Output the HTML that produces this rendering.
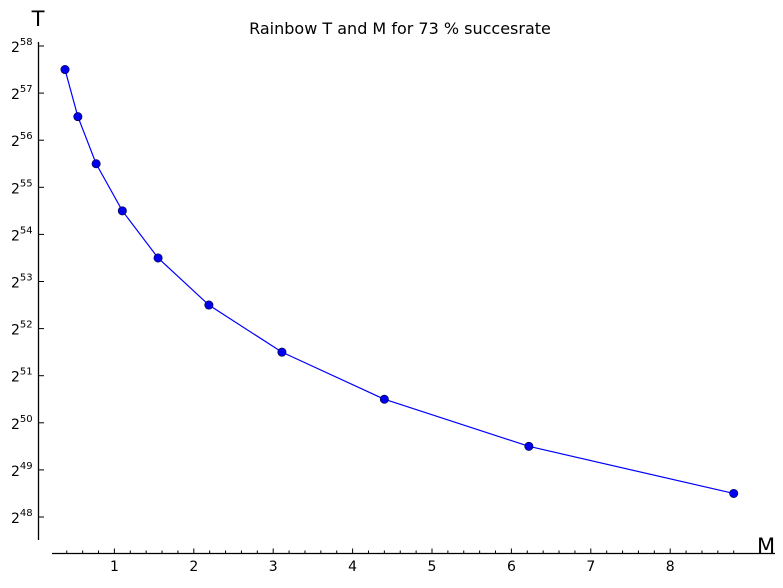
<!DOCTYPE html>
<html><head><meta charset="utf-8"><style>
body{margin:0;background:#fff;}
svg text{font-family:"DejaVu Sans","Liberation Sans",sans-serif;}
</style></head><body>
<svg id="chart" width="783" height="583" xmlns="http://www.w3.org/2000/svg">
<text x="400" y="34" text-anchor="middle" font-size="16">Rainbow T and M for 73 % succesrate</text>
<text x="38" y="26" text-anchor="middle" font-size="21">T</text>
<text x="766" y="553" text-anchor="middle" font-size="21">M</text>
<g id="axes"></g><g id="series"></g>
</svg>
<script>
const mValues=[0.378,0.54,0.77,1.10,1.55,2.19,3.11,4.40,6.22,8.80];
const tExponents=[57.5,56.5,55.5,54.5,53.5,52.5,51.5,50.5,49.5,48.5];
const xTicks=[1,2,3,4,5,6,7,8];
const yTicks=[48,49,50,51,52,53,54,55,56,57,58];
const NS="http://www.w3.org/2000/svg";
const xs=m=>35+m*79.4;
const ys=e=>517-(e-48)*47.1;
const axes=document.getElementById('axes'),ser=document.getElementById('series');
function mk(tag,at,parent){const e=document.createElementNS(NS,tag);for(const k in at)e.setAttribute(k,at[k]);parent.appendChild(e);return e;}
let l=mk('line',{x1:38.5,y1:42,x2:38.5,y2:540,stroke:'#000','stroke-width':1.3},axes);


l=mk('line',{x1:52,y1:553.5,x2:775,y2:553.5,stroke:'#000','stroke-width':1.3},axes);


yTicks.forEach(e=>{const y=ys(e);
 const t=mk('line',{x1:38.5,y1:y,x2:44,y2:y,stroke:'#000'},axes);
 
 
 const tx=mk('text',{x:11,y:y+6,'font-size':14},axes);
 
 
 tx.innerHTML='2<tspan dy="-7" font-size="10">'+e+'</tspan>';
});
for(let i=2;i<=44;i++){const m=i/5;const x=xs(m);if(x<52||x>775)continue;
 const major=i%5===0;
 const t=mk('line',{x1:x,y1:553.5,x2:x,y2:553.5-(major?5:3),stroke:'#000'},axes);
 
 
}
xTicks.forEach(v=>{const tx=mk('text',{x:xs(v),y:571,'text-anchor':'middle','font-size':14},axes);
 
 
 tx.textContent=v;});
const pl=mk('polyline',{points:mValues.map((m,i)=>xs(m)+','+ys(tExponents[i])).join(' '),fill:'none',stroke:'#0000ff','stroke-width':1.2},ser);


mValues.forEach((m,i)=>{const c=mk('circle',{cx:xs(m),cy:ys(tExponents[i]),r:4.2,fill:'#0000ee',stroke:'#000033','stroke-width':0.6},ser);
 
 });
</script>
</body></html>
